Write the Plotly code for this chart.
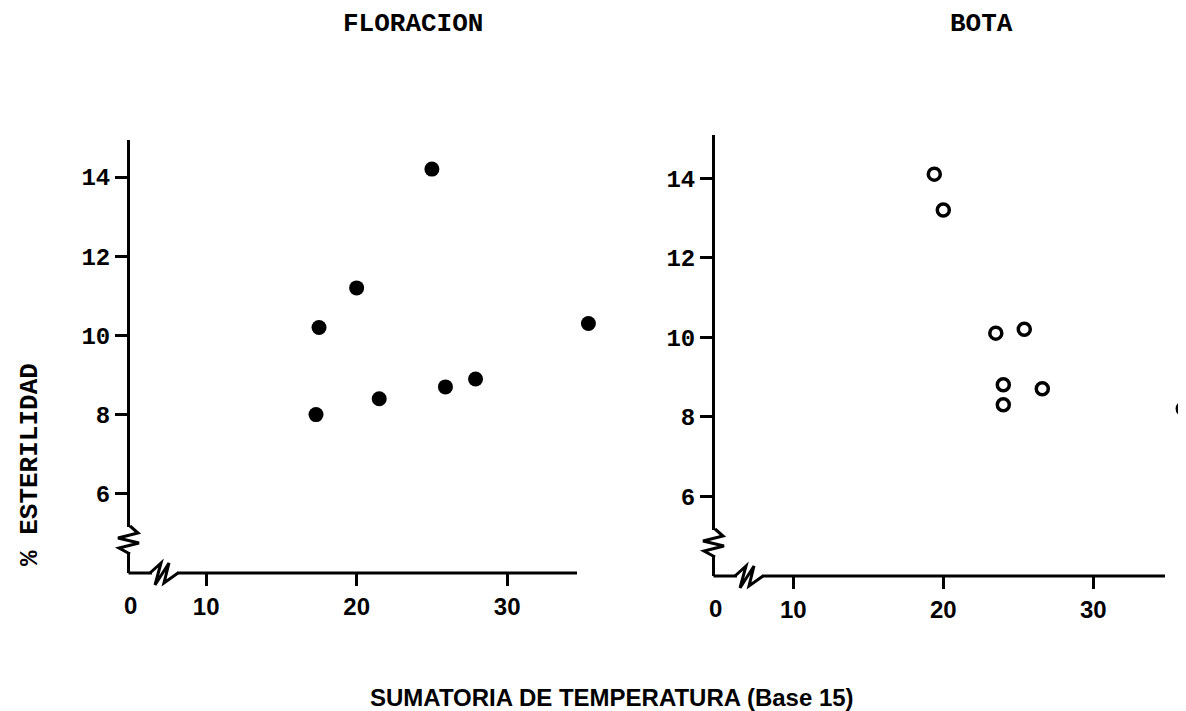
import plotly.graph_objects as go

# datos
flor_x = [17.3, 17.5, 20.0, 21.5, 25.0, 25.9, 27.9, 35.4]
flor_y = [8.0, 10.2, 11.2, 8.4, 14.2, 8.7, 8.9, 10.3]

bota_x = [19.4, 20.0, 23.5, 24.0, 24.0, 25.4, 26.6, 36.0]
bota_y = [14.1, 13.2, 10.1, 8.8, 8.3, 10.2, 8.7, 8.2]

x_ticks = [10, 20, 30]
y_ticks = [6, 8, 10, 12, 14]

W, H = 1186, 711
OFF = 8  # margen del body en la pagina
MONO = "Liberation Mono"
SANS = "Liberation Sans"


def fx(px):
    return (px - OFF) / W


def fy(py):
    return 1 - (py - OFF) / H


# paneles: origen en pixeles, valores en el origen cortado, escala y fin de la linea del eje
paneles = [
    dict(ox=130, oy=573, x0=4.94, y0=4.0, sx=15.05, sy=39.6, x_fin=34.64, y_top=140, x_max=37.0),
    dict(ox=715, oy=576, x0=4.78, y0=3.99, sx=15.0, sy=39.75, x_fin=34.78, y_top=135, x_max=36.7),
]

fig = go.Figure()

fig.add_trace(
    go.Scatter(
        x=flor_x,
        y=flor_y,
        mode="markers",
        marker=dict(size=15, color="black", line=dict(width=0)),
        cliponaxis=False,
        showlegend=False,
        xaxis="x",
        yaxis="y",
    )
)

fig.add_trace(
    go.Scatter(
        x=bota_x,
        y=bota_y,
        mode="markers",
        marker=dict(size=12, symbol="circle-open", color="black", line=dict(width=3.5, color="black")),
        cliponaxis=False,
        showlegend=False,
        xaxis="x2",
        yaxis="y2",
    )
)

eje_x = dict(
    tickvals=x_ticks,
    ticks="outside",
    ticklen=12,
    tickwidth=3,
    tickcolor="black",
    showline=False,
    showgrid=False,
    zeroline=False,
    tickfont=dict(family=SANS, size=24, color="black", weight="bold"),
)

eje_y = dict(
    tickvals=y_ticks,
    ticks="outside",
    ticklen=12,
    tickwidth=3,
    tickcolor="black",
    showline=True,
    linewidth=3,
    linecolor="black",
    showgrid=False,
    zeroline=False,
    tickfont=dict(family=MONO, size=24, color="black", weight="bold"),
)

ejes = {}
for i, p in enumerate(paneles):
    sfx = "" if i == 0 else str(i + 1)
    x_der = p["ox"] + (p["x_max"] - p["x0"]) * p["sx"]
    y_max = p["y0"] + (p["oy"] - p["y_top"]) / p["sy"]
    ejes["xaxis" + sfx] = dict(eje_x, domain=[fx(p["ox"]), min(fx(x_der), 1.0)],
                               range=[p["x0"], p["x_max"]], anchor="y" + sfx)
    ejes["yaxis" + sfx] = dict(eje_y, domain=[fy(p["oy"]), fy(p["y_top"])],
                               range=[p["y0"], y_max], anchor="x" + sfx)

fig.update_layout(
    width=W,
    height=H,
    margin=dict(l=0, r=0, t=0, b=0),
    paper_bgcolor="white",
    plot_bgcolor="white",
    **ejes,
)

# lineas del eje x y cortes de los ejes (en papel, para que no se recorten)
negro = dict(color="black", width=3)
shapes = []
for p in paneles:
    comun = dict(xref="paper", yref="paper", xsizemode="pixel", ysizemode="pixel",
                 xanchor=fx(p["ox"]), yanchor=fy(p["oy"]), layer="above")
    largo = (p["x_fin"] - p["x0"]) * p["sx"]
    shapes.append(dict(comun, type="path", path=f"M-1.5,0 L{largo:.1f},0", line=negro))
    # tapar la linea del eje donde va el corte
    shapes.append(dict(comun, type="rect", x0=-4, x1=4, y0=21, y1=46, fillcolor="white", line=dict(width=0)))
    shapes.append(dict(comun, type="rect", x0=22, x1=47, y0=-4, y1=4, fillcolor="white", line=dict(width=0)))
    # zigzag vertical
    shapes.append(dict(comun, type="path", path="M0,47 L8,40 L-12,35 L9,30 L-11,25 L0,19", line=negro))
    # doble barra horizontal
    shapes.append(dict(comun, type="path", path="M20,0 L31,10 L25,-12 L39,10 L34,-10 L48,0", line=negro))
fig.update_layout(shapes=shapes)

titulo = dict(family=MONO, size=26, color="black", weight="bold")
annotations = [
    dict(text="FLORACION", x=fx(413), y=1.0, yanchor="top", font=titulo),
    dict(text="BOTA", x=fx(981), y=1.0, yanchor="top", font=titulo),
    dict(text="% ESTERILIDAD", x=fx(30), y=fy(465), yanchor="middle", textangle=-90, font=titulo),
    dict(text="SUMATORIA DE TEMPERATURA (Base 15)", x=fx(612), y=fy(697), yanchor="middle",
         font=dict(family=SANS, size=24, color="black", weight="bold")),
]
for a in annotations:
    a.update(xref="paper", yref="paper", xanchor="center", showarrow=False, borderpad=0)

# etiqueta "0" en el origen cortado
for i, p in enumerate(paneles):
    sfx = "" if i == 0 else str(i + 1)
    annotations.append(dict(text="0", x=p["x0"], y=p["y0"], xref="x" + sfx, yref="y" + sfx,
                            xanchor="center", yanchor="top", yshift=-17, showarrow=False,
                            font=dict(family=SANS, size=24, color="black", weight="bold")))
fig.update_layout(annotations=annotations)

fig.write_html("out.html")
